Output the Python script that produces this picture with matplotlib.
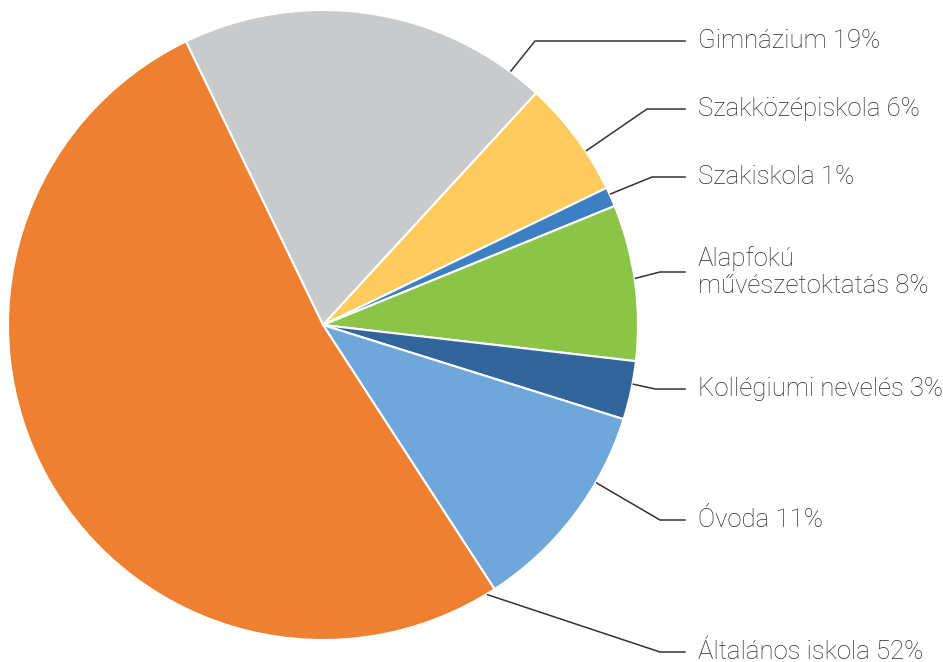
import numpy as np
import matplotlib.pyplot as plt

plt.rcParams['font.family'] = ['Roboto', 'DejaVu Sans']

# data
labels = ['Gimnázium 19%', 'Szakközépiskola 6%', 'Szakiskola 1%',
          'Alapfokú\nművészetoktatás 8%', 'Kollégiumi nevelés 3%',
          'Óvoda 11%', 'Általános iskola 52%']
values = [19, 6, 1, 8, 3, 11, 52]
colors = ['#c9cacc', '#fecb5c', '#3d7fc3', '#8bc446', '#32659c', '#6fa7da', '#ee8031']

# layout of the labels (pixels from top) and where leader lines touch the pie (deg)
label_y = [41, 109, 177, 272, 389, 520, 652]
anchor_ang = [53.5, 33.5, 24.5, 8.5, -10.8, -30, -58.6]
elbow_x = [535, 647, 652, 660, 655, 660, 660]

W, H = 943, 662
cx, cy, R = 323, H - 325, 315

fig = plt.figure(figsize=(W / 100, H / 100), dpi=100)
ax = fig.add_axes([0, 0, 1, 1])
ax.pie(values, colors=colors, startangle=115.8, counterclock=False,
       center=(cx, cy), radius=R,
       wedgeprops=dict(edgecolor='white', linewidth=1.5))
ax.set_xlim(0, W)
ax.set_ylim(0, H)
ax.set_aspect('equal')
ax.axis('off')

for lab, ly, a, ex in zip(labels, label_y, anchor_ang, elbow_x):
    t = np.radians(a)
    x0 = cx + (R + 1) * np.cos(t)
    y0 = cy + (R + 1) * np.sin(t)
    yy = H - ly
    ax.plot([x0, ex, 685], [y0, yy, yy], color='#333333', lw=1.1)
    ax.text(698, yy, lab, fontsize=18.5, color='#2b2b2b', va='center',
            ha='left', fontweight='light', linespacing=1.12)

fig.savefig('out.png', dpi=100)
